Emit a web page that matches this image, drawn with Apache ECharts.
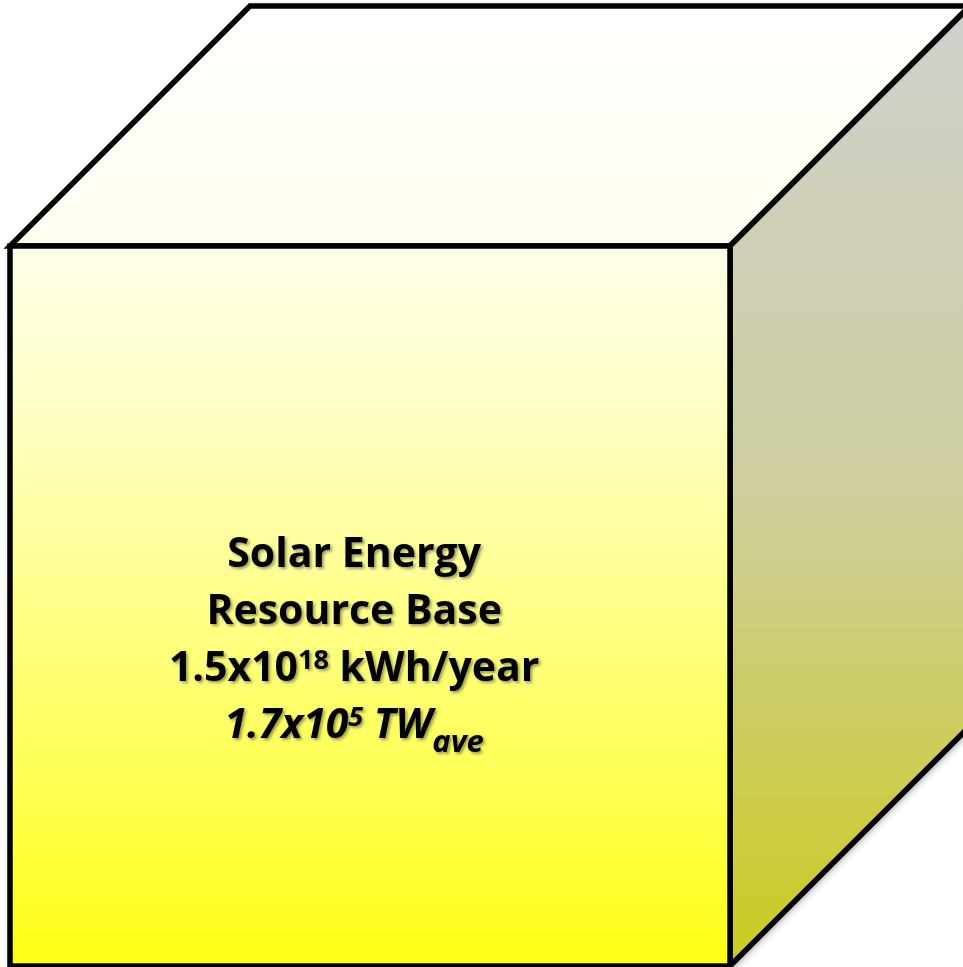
<!DOCTYPE html>
<html>
<head>
<meta charset="utf-8">
<script src="https://cdn.jsdelivr.net/npm/echarts@6/dist/echarts.min.js"></script>
<style>
  html, body { margin: 0; padding: 0; background: #ffffff; }
  #chart { width: 963px; height: 967px; }
</style>
</head>
<body>
<div id="chart"></div>
<script>
// Cube in data units: the front face is a unit square, the receding edges
// run up and to the right by a third of the edge length.
const cubeEdge = 1;
const cubeDepth = 1 / 3;

// Faces, drawn back to front.
const faceNames = ['top', 'side', 'front'];

// Label lines; each piece is normal text, a superscript or a subscript.
const labelLines = [
  { italic: false, parts: [['Solar Energy', 'n']] },
  { italic: false, parts: [['Resource Base', 'n']] },
  { italic: false, parts: [['1.5x10', 'n'], ['18', 'sup'], [' kWh/year', 'n']] },
  { italic: true,  parts: [['1.7x10', 'n'], ['5', 'sup'], [' TW', 'n'], ['ave', 'sub']] }
];

const FONT_FAMILY = '"Open Sans", Lato, sans-serif';
const PART_SIZE = { n: 41, sup: 27, sub: 31 };
const PART_SHIFT = { n: 0, sup: -12, sub: 14 };
const LINE_STEP = 57;

const faceFill = {
  top: new echarts.graphic.LinearGradient(0, 0, 0, 1, [
    { offset: 0, color: '#ffffff' },
    { offset: 1, color: '#fffff0' }
  ]),
  side: new echarts.graphic.LinearGradient(0, 0, 0, 1, [
    { offset: 0, color: '#d0d0cd' },
    { offset: 0.5, color: '#cecea0' },
    { offset: 1, color: '#cbcb1e' }
  ]),
  front: new echarts.graphic.LinearGradient(0, 0, 0, 1, [
    { offset: 0, color: '#ffffea' },
    { offset: 0.2, color: '#ffffcc' },
    { offset: 0.76, color: '#ffff50' },
    { offset: 1, color: '#ffff12' }
  ])
};

function faceVertices(name) {
  const e = cubeEdge, d = cubeDepth;
  if (name === 'front') return [[0, 0], [e, 0], [e, e], [0, e]];
  if (name === 'top') return [[0, e], [e, e], [e + d, e + d], [d, e + d]];
  return [[e, 0], [e + d, d], [e + d, e + d], [e, e]];
}

const measureCtx = document.createElement('canvas').getContext('2d');
function fontString(italic, size) {
  return (italic ? 'italic ' : '') + 'bold ' + size + 'px ' + FONT_FAMILY;
}
function measure(text, italic, size) {
  measureCtx.font = fontString(italic, size);
  return measureCtx.measureText(text).width;
}
// distance from the canvas "middle" line down to the alphabetic baseline
function baselineBelowMiddle(italic, size) {
  measureCtx.font = fontString(italic, size);
  measureCtx.textBaseline = 'alphabetic';
  const a = measureCtx.measureText('H').actualBoundingBoxAscent;
  measureCtx.textBaseline = 'middle';
  const m = measureCtx.measureText('H').actualBoundingBoxAscent;
  measureCtx.textBaseline = 'alphabetic';
  return a - m;
}

const textShadow = {
  textShadowColor: 'rgba(0,0,0,0.38)',
  textShadowBlur: 3,
  textShadowOffsetX: 2,
  textShadowOffsetY: 2
};

function renderCube(params, api) {
  const children = [];
  const toPx = (pts) => pts.map((p) => api.coord(p));

  // soft drop shadow under the whole solid
  const outline = toPx([[0, 0], [cubeEdge, 0], [cubeEdge + cubeDepth, cubeDepth],
    [cubeEdge + cubeDepth, cubeEdge + cubeDepth], [cubeDepth, cubeEdge + cubeDepth], [0, cubeEdge]]);
  children.push({
    type: 'polygon',
    shape: { points: outline },
    style: {
      fill: '#ffffff',
      shadowBlur: 8,
      shadowColor: 'rgba(0,0,0,0.45)',
      shadowOffsetX: 2,
      shadowOffsetY: 2
    }
  });

  faceNames.forEach((name) => {
    children.push({
      type: 'polygon',
      shape: { points: toPx(faceVertices(name)) },
      style: {
        fill: faceFill[name],
        stroke: '#000000',
        lineWidth: 5.5,
        lineJoin: 'miter'
      }
    });
  });

  // label block, centred a little left of the front face centre
  const anchor = api.coord([0.478, 0]);
  const firstBaseline = api.coord([0, 0.554])[1];
  labelLines.forEach((line, i) => {
    const baseY = firstBaseline + i * LINE_STEP;
    const widths = line.parts.map(([t, kind]) => measure(t, line.italic, PART_SIZE[kind]));
    const total = widths.reduce((s, w) => s + w, 0);
    let x = anchor[0] - total / 2;
    line.parts.forEach(([t, kind], j) => {
      const size = PART_SIZE[kind];
      const y = baseY + PART_SHIFT[kind] - baselineBelowMiddle(line.italic, size);
      children.push({
        type: 'text',
        x: x,
        y: y,
        style: Object.assign({
          text: t,
          fill: '#000000',
          fontFamily: FONT_FAMILY,
          fontWeight: 'bold',
          fontStyle: line.italic ? 'italic' : 'normal',
          fontSize: size,
          align: 'left',
          verticalAlign: 'middle'
        }, textShadow)
      });
      x += widths[j];
    });
  });

  return { type: 'group', children: children };
}

const chart = echarts.init(document.getElementById('chart'), null, { renderer: 'canvas' });
chart.setOption({
  animation: false,
  grid: { left: 0, right: 0, top: 0, bottom: 0 },
  xAxis: { type: 'value', min: -10 / 720, max: 953 / 720, show: false },
  yAxis: { type: 'value', min: -1 / 720, max: 966 / 720, show: false },
  series: [{
    type: 'custom',
    coordinateSystem: 'cartesian2d',
    renderItem: renderCube,
    data: [[0, 0]],
    clip: false
  }]
});
</script>
</body>
</html>
